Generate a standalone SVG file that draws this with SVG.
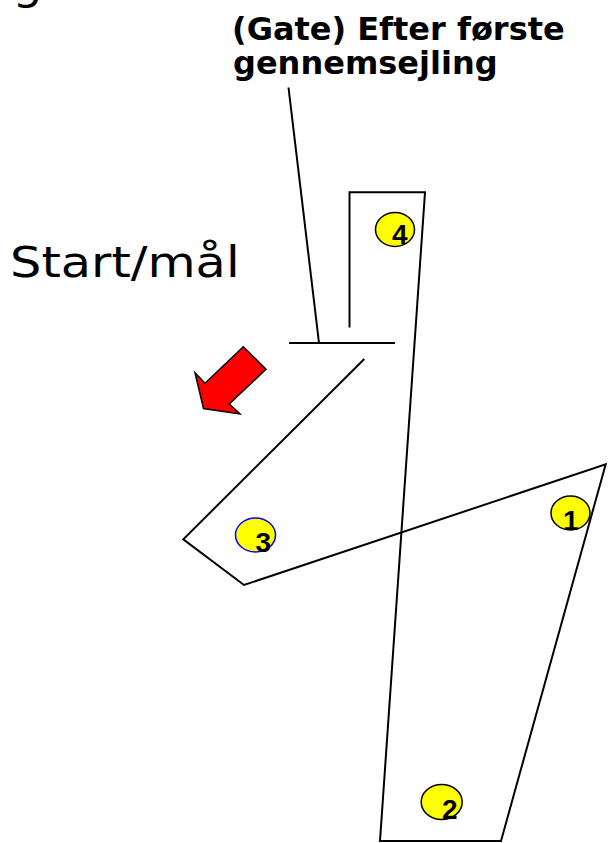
<svg xmlns="http://www.w3.org/2000/svg" width="610" height="843" viewBox="0 0 610 843">
<style>
.ln{fill:none;stroke:#000;stroke-width:2;stroke-linejoin:miter}
.buoy{fill:#FFFF00;stroke:#000;stroke-width:1.5}
.num{font-family:"Liberation Sans",Arial,sans-serif;font-weight:bold;font-size:28px;fill:#000}
.title{font-family:"DejaVu Sans",Verdana,sans-serif;font-weight:bold;font-size:32px;fill:#000}
.big{font-family:"DejaVu Sans",Verdana,sans-serif;font-size:43px;fill:#000}
</style>
<rect width="610" height="843" fill="#fff"/>
<text class="big" transform="translate(12.5,-1) scale(1.1,1)" x="0" y="0">g</text>
<g id="title">
<text class="title" x="232" y="39.5">(Gate) Efter første</text>
<text class="title" x="233" y="73.5">gennemsejling</text>
</g>
<g id="start">
<text class="big" transform="translate(10,277) scale(1.15,1)" x="0" y="0">Start/mål</text>
</g>
<g id="connectors">
<path class="ln" d="M288.5,87.5 L319,343"/>
<path class="ln" d="M289,343 L395,343"/>
<path class="ln" d="M364.3,359 L183.3,539.3 L244,585 L605.7,464.3 L501,841 L380,841 L425,192.3 L349.5,192.3 L349.5,327.5"/>
</g>
<g id="arrow">
<polygon points="243.3,346.7 266,369.3 229.3,404 240,414 203.5,408.5 195,372.7 205,383.3" fill="#FF0000" stroke="#000" stroke-width="1.5" stroke-linejoin="miter"/>
</g>
<g id="buoy4">
<ellipse class="buoy" cx="395" cy="229.5" rx="19.5" ry="17"/>
<text class="num" x="392" y="244.3">4</text>
</g>
<g id="buoy1">
<ellipse class="buoy" cx="570.5" cy="513" rx="19.5" ry="17"/>
<text class="num" x="563" y="529.5">1</text>
</g>
<g id="buoy3">
<ellipse class="buoy" cx="255.5" cy="535" rx="20" ry="17" style="stroke:#0000FF"/>
<text class="num" x="255.5" y="552">3</text>
</g>
<g id="buoy2">
<ellipse class="buoy" cx="441.7" cy="802" rx="20.5" ry="17.5"/>
<text class="num" x="442" y="819">2</text>
</g>
</svg>
